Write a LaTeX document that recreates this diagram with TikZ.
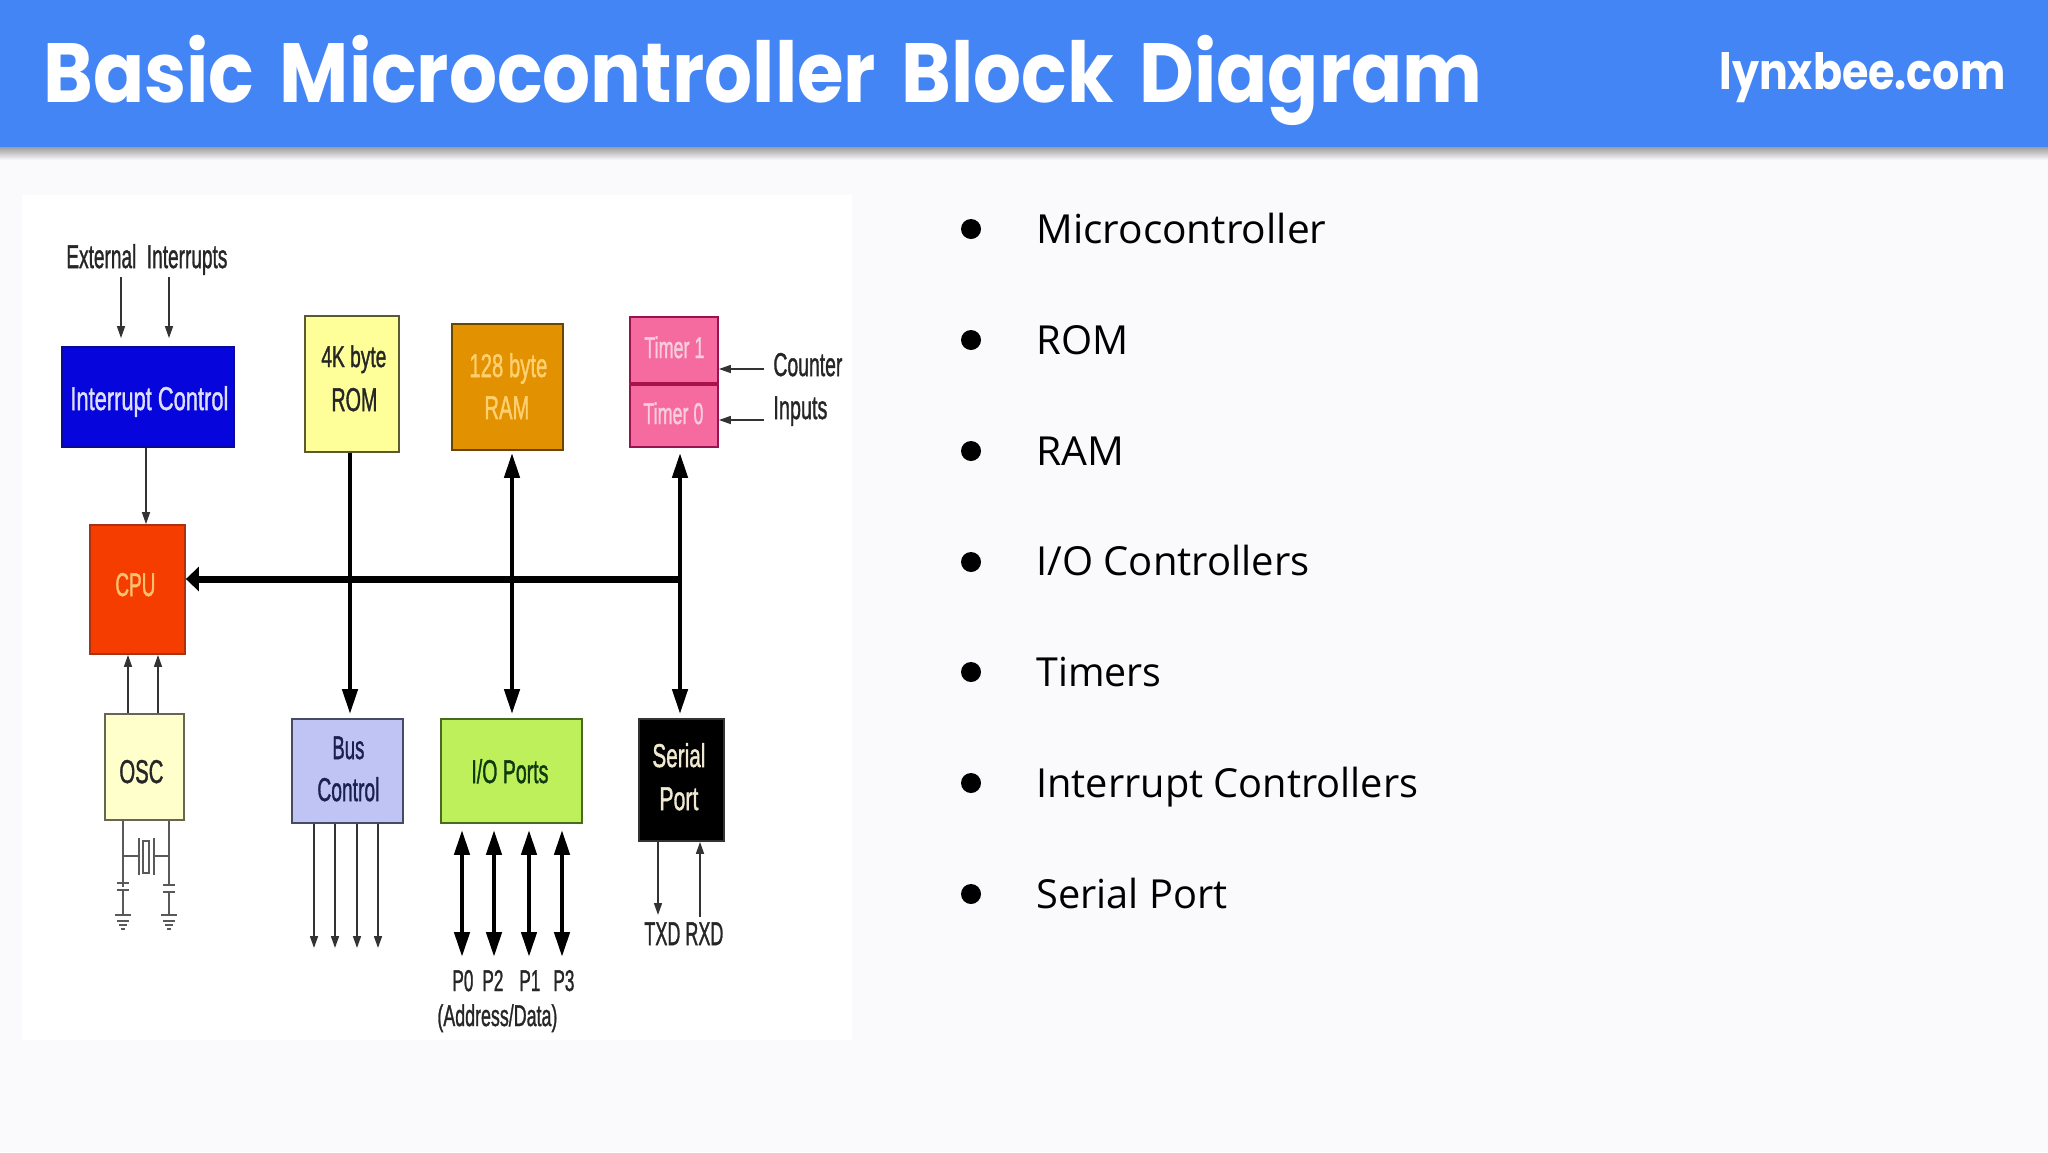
\documentclass[tikz,border=0pt]{standalone}
\usepackage{graphicx}
\usepackage{fontspec}
\usetikzlibrary{arrows.meta,shapes.geometric}
\setmainfont{Liberation Sans}
\newfontfamily\lblfont{Liberation Sans}[FakeBold=1.5]
\newfontfamily\titlefont{Poppins}
\newfontfamily\listfont{Open Sans}
\newlength\pxu \setlength\pxu{0.5pt}
\newcommand\fit[2]{\resizebox{#1\pxu}{\height}{#2}}
\definecolor{pagebg}{HTML}{FAF9FC}
\definecolor{headblue}{HTML}{4485F5}
\definecolor{icfill}{HTML}{0505DC}
\definecolor{icdraw}{HTML}{0A0A96}
\definecolor{ictext}{HTML}{DEDEFF}
\definecolor{romfill}{HTML}{FFFF99}
\definecolor{romdraw}{HTML}{5A5A30}
\definecolor{ramfill}{HTML}{E29100}
\definecolor{ramdraw}{HTML}{694600}
\definecolor{ramtext}{HTML}{FFD070}
\definecolor{timfill}{HTML}{F56BA0}
\definecolor{timdraw}{HTML}{961450}
\definecolor{timdiv}{HTML}{A8104E}
\definecolor{timtext}{HTML}{FACDDE}
\definecolor{cpufill}{HTML}{F53D00}
\definecolor{cpudraw}{HTML}{AA3214}
\definecolor{cputext}{HTML}{FFC070}
\definecolor{oscfill}{HTML}{FFFFCC}
\definecolor{oscdraw}{HTML}{666655}
\definecolor{busfill}{HTML}{C0C4F4}
\definecolor{busdraw}{HTML}{464A64}
\definecolor{bustext}{HTML}{1A2050}
\definecolor{iofill}{HTML}{BDF05A}
\definecolor{iodraw}{HTML}{4A6A20}
\definecolor{iotext}{HTML}{0F3A10}
\definecolor{sertext}{HTML}{F0E8D0}
\definecolor{inktext}{HTML}{262626}
\tikzset{
  box/.style={draw,rectangle,inner sep=0pt,line width=0.9pt},
  lbl/.style={inner sep=0pt,anchor=base west,font=\lblfont\fontsize{16.5pt}{19pt}\selectfont,text=#1},
  lbl/.default=inktext,
  smalllbl/.style={lbl=#1,font=\lblfont\fontsize{15pt}{18pt}\selectfont},
  smalllbl/.default=inktext,
  listitem/.style={inner sep=0pt,anchor=base west,font=\listfont\fontsize{20pt}{24pt}\selectfont,text=black},
  bulletdot/.style={ellipse,fill=black,inner sep=0pt,minimum width=10pt,minimum height=10pt},
  thin arrow/.style={draw=black!80,line width=0.8pt,-{Triangle[length=6pt,width=4pt]}},
  thick both/.style={draw=black,line width=2.25pt,{Triangle[length=12.5pt,width=7.5pt]}-{Triangle[length=12.5pt,width=7.5pt]}},
  thick down/.style={draw=black,line width=2.25pt,-{Triangle[length=12.5pt,width=7.5pt]}},
  busline/.style={draw=black,line width=3.5pt,-{Triangle[length=6.5pt,width=12pt]}},
  wire/.style={draw=black!65,line width=0.8pt},
}
\begin{document}
\begin{tikzpicture}[x=0.5pt,y=-0.5pt]
\useasboundingbox (0,0) rectangle (2048,1152);
\fill[pagebg] (0,0) rectangle (2048,1152);
% header
\shade[top color=black!38,bottom color=pagebg] (0,147) rectangle (2048,160);
\fill[headblue] (0,0) rectangle (2048,147);
\node[inner sep=0pt,anchor=base west,text=white,font=\titlefont\bfseries\fontsize{42pt}{50pt}\selectfont] (title) at (43,102) {\fit{1439}{\spaceskip=0.34em Basic Microcontroller Block Diagram}};
\node[inner sep=0pt,anchor=base west,text=white,font=\titlefont\bfseries\fontsize{25pt}{30pt}\selectfont] (site) at (1719,89) {\fit{286}{lynxbee.com}};
% image panel
\fill[white] (22,195) rectangle (852,1040);

% blocks
\node[box,fill=icfill,draw=icdraw,minimum width=86pt,minimum height=50pt] (ic) at (148,397) {};
\node[box,fill=romfill,draw=romdraw,minimum width=47pt,minimum height=68pt] (rom) at (352,384) {};
\node[box,fill=ramfill,draw=ramdraw,minimum width=55.5pt,minimum height=63pt] (ram) at (507.5,387) {};
\node[box,fill=timfill,draw=timdraw,minimum width=44pt,minimum height=33pt] (timerone) at (674,350) {};
\node[box,fill=timfill,draw=timdraw,minimum width=44pt,minimum height=32pt] (timerzero) at (674,415) {};
\draw[draw=timdiv,line width=2pt] (timerone.south west) -- (timerone.south east);
\node[box,fill=cpufill,draw=cpudraw,minimum width=47.5pt,minimum height=64.5pt] (cpu) at (137.5,589.5) {};
\node[box,fill=oscfill,draw=oscdraw,minimum width=39.5pt,minimum height=53pt] (osc) at (144.5,767) {};
\node[box,fill=busfill,draw=busdraw,minimum width=55.5pt,minimum height=52pt] (busc) at (347.5,771) {};
\node[box,fill=iofill,draw=iodraw,minimum width=70.5pt,minimum height=52pt] (io) at (511.5,771) {};
\node[box,fill=black,draw=black!80,minimum width=42.5pt,minimum height=61pt] (serial) at (681.5,780) {};

% block labels
\node[lbl=ictext] (ict) at (70,410) {\fit{158}{Interrupt Control}};
\node[smalllbl] (romt1) at (321,367) {\fit{65}{4K byte}};
\node[lbl] (romt2) at (331,411) {\fit{46}{ROM}};
\node[lbl=ramtext] (ramt1) at (469,377) {\fit{78}{128 byte}};
\node[lbl=ramtext] (ramt2) at (484,419) {\fit{45}{RAM}};
\node[smalllbl=timtext] (tt1) at (644,358) {\fit{60}{Timer 1}};
\node[smalllbl=timtext] (tt0) at (643,424) {\fit{60}{Timer 0}};
\node[lbl=cputext] (cput) at (115,596) {\fit{40}{CPU}};
\node[lbl] (osct) at (119,783) {\fit{44}{OSC}};
\node[lbl=bustext] (bust1) at (332,759) {\fit{32}{Bus}};
\node[lbl=bustext] (bust2) at (317,801) {\fit{62}{Control}};
\node[lbl=iotext] (iot) at (471,783) {\fit{77}{I/O Ports}};
\node[lbl=sertext] (st1) at (652,767) {\fit{53}{Serial}};
\node[lbl=sertext] (st2) at (659,810) {\fit{39}{Port}};

% free labels
\node[lbl] (ext) at (66,268) {\fit{161}{External\ \ Interrupts}};
\node[lbl] (cnt) at (773,376) {\fit{69}{Counter}};
\node[lbl] (inp) at (773,419) {\fit{54}{Inputs}};
\node[lbl] (txrx) at (644,945) {\fit{79}{TXD RXD}};
\node[smalllbl] (p0) at (452,991) {\fit{21}{P0}};
\node[smalllbl] (p2) at (482,991) {\fit{21}{P2}};
\node[smalllbl] (p1) at (519,991) {\fit{21}{P1}};
\node[smalllbl] (p3) at (553,991) {\fit{21}{P3}};
\node[smalllbl] (addr) at (437,1026) {\fit{120}{(Address/Data)}};

% guide coordinates
\coordinate (xea) at (121,277);
\coordinate (xeb) at (169,277);
\coordinate (xic) at (146,447);
\coordinate (xrom) at (350,579);
\coordinate (xram) at (512,579);
\coordinate (xtim) at (680,579);
\coordinate (cnta) at (764,369);
\coordinate (cntb) at (764,420);
\coordinate (xca) at (128,654);
\coordinate (xcb) at (158,654);

% thin arrows
\draw[thin arrow] (xea) -- ([yshift=4pt]ic.north -| xea);
\draw[thin arrow] (xeb) -- ([yshift=4pt]ic.north -| xeb);
\draw[thin arrow] (ic.south -| xic) -- (cpu.north -| xic);
\draw[thin arrow] (cnta) -- (timerone.east |- cnta);
\draw[thin arrow] (cntb) -- (timerzero.east |- cntb);
\draw[thin arrow] (osc.north -| xca) -- (cpu.south -| xca);
\draw[thin arrow] (osc.north -| xcb) -- (cpu.south -| xcb);

% bus
\draw[busline] (xtim) -- (cpu.east |- xtim);
\draw[thick down] (rom.south -| xrom) -- ([yshift=2pt]busc.north -| xrom);
\draw[thick both] ([yshift=-1pt]ram.south -| xram) -- ([yshift=2pt]io.north -| xram);
\draw[thick both] ([yshift=-2.5pt]timerzero.south -| xtim) -- ([yshift=2pt]serial.north -| xtim);

% bus control outputs
\foreach \nm/\xx in {ba/314,bb/335,bc/357,bd/378}{
  \coordinate (\nm) at (\xx,948);
  \draw[thin arrow] (busc.south -| \nm) -- (\nm);
}
% port arrows
\foreach \nm/\xx in {pa/462,pb/494,pc/529,pd/562}{
  \coordinate (\nm) at (\xx,957);
  \draw[thick both] ([yshift=-3pt]io.south -| \nm) -- (\nm);
}
% serial
\coordinate (txd) at (658,915);
\coordinate (rxd) at (700,917);
\draw[thin arrow] (serial.south -| txd) -- (txd);
\draw[thin arrow] (rxd) -- (serial.south -| rxd);

% crystal and capacitors
\coordinate (capa) at (123,887);
\coordinate (capb) at (169,885);
\draw[wire] (osc.south -| capa) -- (capa);
\draw[wire] (osc.south -| capb) -- (capb);
\draw[wire] (123,856) -- (139,856) (154,856) -- (169,856);
\draw[wire] (139,838) -- (139,875) (154,838) -- (154,875);
\draw[wire] (143,841) rectangle (149,873);
\foreach \cx/\pa/\pb in {123/883/890,169/885/892}{
  \draw[wire,line width=1pt] (\cx-6,\pa) -- (\cx+6,\pa) (\cx-6,\pb) -- (\cx+6,\pb);
  \draw[wire] (\cx,\pb) -- (\cx,915);
  \draw[wire,line width=1pt] (\cx-8,915) -- (\cx+8,915) (\cx-6,921) -- (\cx+6,921) (\cx-4,925) -- (\cx+4,925) (\cx-2,929) -- (\cx+2,929);
}

% list
\foreach \nm/\by in {ba/229,bb/340,bc/451,bd/562,be/672,bf/783,bg/894}{
  \node[bulletdot] (dot\nm) at (971,\by) {};
}
\node[listitem] (la) at (1036,243) {\fit{290}{Microcontroller}};
\node[listitem] (lb) at (1036,354) {\fit{92}{ROM}};
\node[listitem] (lc) at (1036,465) {\fit{88}{RAM}};
\node[listitem] (ld) at (1036,575.5) {\fit{273}{I/O Controllers}};
\node[listitem] (le) at (1036,686) {\fit{125}{Timers}};
\node[listitem] (lf) at (1036,797) {\fit{382}{Interrupt Controllers}};
\node[listitem] (lg) at (1036,908) {\fit{191}{Serial Port}};
\end{tikzpicture}
\end{document}
